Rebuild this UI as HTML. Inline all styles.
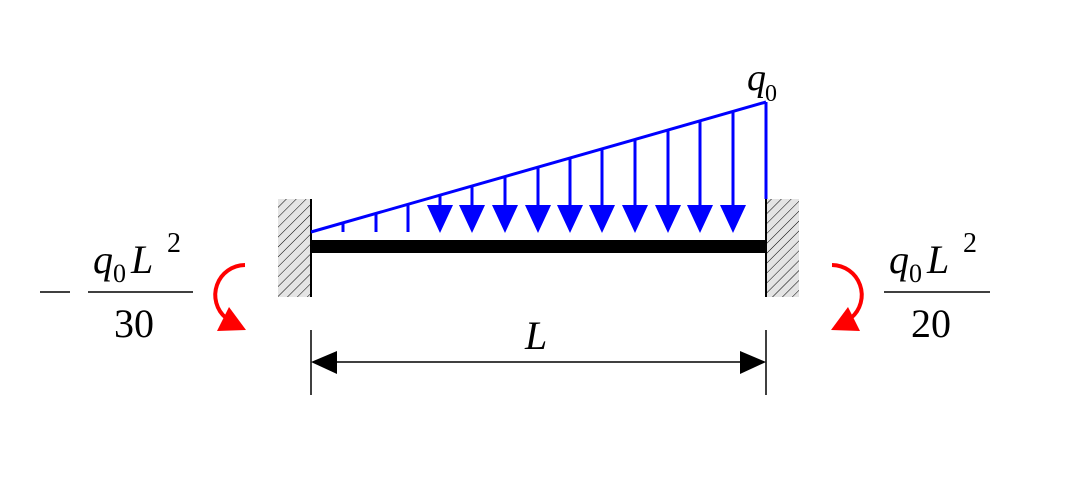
<!DOCTYPE html>
<html><head><meta charset="utf-8"><style>
html,body{margin:0;padding:0;background:#fff;width:1069px;height:482px;overflow:hidden}
text{font-family:"Liberation Serif",serif;}
</style></head><body>
<svg width="1069" height="482" viewBox="0 0 1069 482" xmlns="http://www.w3.org/2000/svg">
<defs>
<pattern id="h" width="7" height="7" patternUnits="userSpaceOnUse" patternTransform="rotate(45)">
<rect width="7" height="7" fill="#e4e4e4"/><line x1="0" y1="0" x2="0" y2="7" stroke="#000" stroke-width="1"/>
</pattern>
</defs>
<rect x="278" y="199" width="33" height="98" fill="url(#h)"/>
<line x1="311" y1="199" x2="311" y2="297" stroke="#000" stroke-width="2"/>
<rect x="766" y="199" width="33" height="98" fill="url(#h)"/>
<line x1="766" y1="199" x2="766" y2="297" stroke="#000" stroke-width="2"/>
<rect x="311" y="240" width="455" height="13" fill="#000"/>
<g stroke="#00f" stroke-width="3" fill="#00f">
<line x1="311" y1="232" x2="766" y2="102"/>
<line x1="766" y1="102" x2="766" y2="199"/>
<line x1="343" y1="223" x2="343" y2="232"/>
<line x1="376" y1="213" x2="376" y2="232"/>
<line x1="408" y1="204" x2="408" y2="232"/>
<line x1="440" y1="195" x2="440" y2="210"/>
<line x1="472" y1="186" x2="472" y2="210"/>
<line x1="505" y1="176" x2="505" y2="210"/>
<line x1="538" y1="167" x2="538" y2="210"/>
<line x1="570" y1="158" x2="570" y2="210"/>
<line x1="602" y1="149" x2="602" y2="210"/>
<line x1="635" y1="139" x2="635" y2="210"/>
<line x1="668" y1="130" x2="668" y2="210"/>
<line x1="700" y1="121" x2="700" y2="210"/>
<line x1="733" y1="111" x2="733" y2="210"/>
</g>
<g fill="#00f">
<polygon points="427,205 453,205 440,233"/>
<polygon points="459,205 485,205 472,233"/>
<polygon points="492,205 518,205 505,233"/>
<polygon points="525,205 551,205 538,233"/>
<polygon points="557,205 583,205 570,233"/>
<polygon points="589,205 615,205 602,233"/>
<polygon points="622,205 648,205 635,233"/>
<polygon points="655,205 681,205 668,233"/>
<polygon points="687,205 713,205 700,233"/>
<polygon points="720,205 746,205 733,233"/>
</g>
<text x="747" y="90" font-size="38" font-style="italic">q</text>
<text x="765" y="101" font-size="24">0</text>
<g stroke="#000" stroke-width="1.5">
<line x1="311" y1="330" x2="311" y2="395"/>
<line x1="766" y1="330" x2="766" y2="395"/>
<line x1="330" y1="362" x2="748" y2="362"/>
</g>
<polygon points="311,362 337,351 337,374" fill="#000"/>
<polygon points="766,362 740,351 740,374" fill="#000"/>
<text x="525" y="349" font-size="40" font-style="italic">L</text>
<g fill="none" stroke="#f00" stroke-width="4">
<path d="M245,265 A30,30 0 0 0 226,318"/>
<path d="M832,265 A30,30 0 0 1 851,318"/>
</g>
<polygon points="217,331 246,330 229,307" fill="#f00"/>
<polygon points="860,331 831,330 848,307" fill="#f00"/>
<line x1="40" y1="292" x2="70" y2="292" stroke="#000" stroke-width="1.5"/>
<line x1="88" y1="292" x2="193" y2="292" stroke="#000" stroke-width="1.5"/>
<text x="93" y="273" font-size="40" font-style="italic">q</text>
<text x="113" y="282" font-size="26">0</text>
<text x="131" y="273" font-size="40" font-style="italic">L</text>
<text x="167" y="252" font-size="28">2</text>
<text x="114" y="337" font-size="40">30</text>
<line x1="884" y1="292" x2="990" y2="292" stroke="#000" stroke-width="1.5"/>
<text x="889" y="273" font-size="40" font-style="italic">q</text>
<text x="909" y="282" font-size="26">0</text>
<text x="927" y="273" font-size="40" font-style="italic">L</text>
<text x="963" y="252" font-size="28">2</text>
<text x="911" y="337" font-size="40">20</text>
</svg>
</body></html>
